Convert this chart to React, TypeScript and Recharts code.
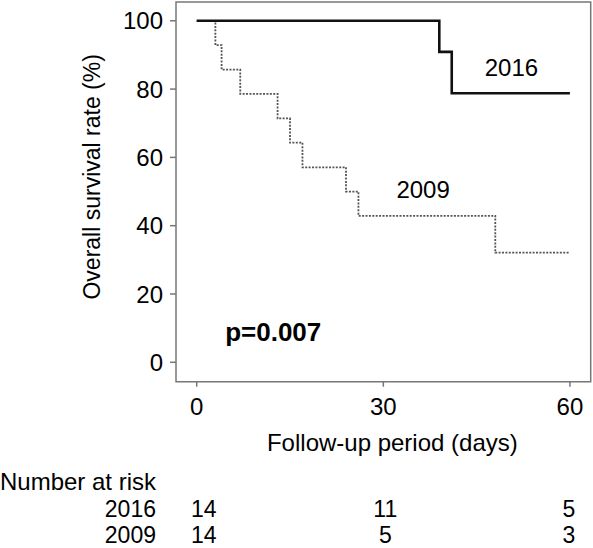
import React from 'react';
import { LineChart, Line, XAxis, YAxis, ReferenceArea, ReferenceDot } from 'recharts';

// Kaplan-Meier steps (days, % surviving)
const times2016 = [0, 39, 41, 60];
const surv2016 = [100, 90.9, 78.8, 78.8];
const times2009 = [0, 3, 4, 7, 13, 15, 17, 24, 26, 48, 60];
const surv2009 = [100, 92.9, 85.7, 78.6, 71.4, 64.3, 57.1, 50, 42.9, 32.1, 32.1];

// number at risk table
const riskTimes = [0, 30, 60];
const risk2016 = [14, 11, 5];
const risk2009 = [14, 5, 3];

const xTicks = [0, 30, 60];
const yTicks = [0, 20, 40, 60, 80, 100];

const data2016 = times2016.map((t, i) => ({ t, s: surv2016[i] }));
const data2009 = times2009.map((t, i) => ({ t, s: surv2009[i] }));

const FONT = '"Liberation Sans", Arial, Helvetica, sans-serif';
const FS = 24;
const RISK_FS = 23;
const AXIS = '#777';
const X_DOMAIN: [number, number] = [-3.33, 63.34];
const Y_DOMAIN: [number, number] = [-5.68, 105.5];

const YTitle = (props: any) => {
    const { viewBox } = props;
    const cx = viewBox.x + viewBox.width / 2;
    const cy = viewBox.y + viewBox.height / 2 - 15;
    return <text x={cx} y={cy} transform={`rotate(-90, ${cx}, ${cy})`} textAnchor="middle" dominantBaseline="central" fontSize={23} fill="#000">
        Overall survival rate (%)
    </text>;
};

const riskTick = (counts: number[]) => (props: any) => {
    const { x, y, payload, index } = props;
    const shift = [7, 2, -1][index] ?? 0;
    return <text x={x + shift} y={y} dy="0.71em" textAnchor="middle" fontSize={RISK_FS} fill="#000">
        {counts[riskTimes.indexOf(payload.value)]}
    </text>;
};

const rowLabel = (value: string, size: number) => ({ value, position: 'left' as const, offset: 20, fontSize: size, fill: '#000' });

export default function App() {
    // extra bottom axes stack by id, so ids are named in row order
    return <div style={{ position: 'absolute', left: 0, top: 0 }}>
        <LineChart width={593} height={548} margin={{ top: 2, right: 2.3, left: 8, bottom: 1 }} style={{ fontFamily: FONT }}>
            <XAxis type="number" dataKey="t" domain={X_DOMAIN} allowDataOverflow ticks={xTicks} height={86.3}
                axisLine={false} tickLine={{ stroke: AXIS, strokeWidth: 1.5 }} tickSize={5} tickMargin={11}
                tick={{ fontSize: FS, fill: '#000' }}
                label={{ value: 'Follow-up period (days)', position: 'insideBottom', offset: 17, dx: 9, fontSize: FS, fill: '#000' }} />
            <XAxis xAxisId="risk1" type="number" dataKey="t" domain={X_DOMAIN} allowDataOverflow height={27}
                axisLine={false} tickLine={false} tick={false} label={rowLabel('Number at risk', FS)} />
            <XAxis xAxisId="risk2" type="number" dataKey="t" domain={X_DOMAIN} allowDataOverflow ticks={riskTimes} height={27}
                axisLine={false} tickLine={false} tickSize={0} tickMargin={5.5} tick={riskTick(risk2016)} interval={0}
                label={rowLabel('2016', RISK_FS)} />
            <XAxis xAxisId="risk3" type="number" dataKey="t" domain={X_DOMAIN} allowDataOverflow ticks={riskTimes} height={25}
                axisLine={false} tickLine={false} tickSize={0} tickMargin={4.5} tick={riskTick(risk2009)} interval={0}
                label={rowLabel('2009', RISK_FS)} />
            <YAxis type="number" domain={Y_DOMAIN} allowDataOverflow ticks={yTicks} width={168}
                axisLine={false} tickLine={{ stroke: AXIS, strokeWidth: 1.5 }} tickSize={6} tickMargin={7}
                tick={{ fontSize: FS, fill: '#000' }} label={{ content: YTitle }} />
            <ReferenceArea x1={X_DOMAIN[0]} x2={X_DOMAIN[1]} y1={Y_DOMAIN[0]} y2={Y_DOMAIN[1]}
                fill="none" stroke={AXIS} strokeWidth={1.5} ifOverflow="visible" />
            <Line data={data2009} type="stepAfter" dataKey="s" stroke="#555" strokeWidth={1.8}
                strokeDasharray="2 1.4" dot={false} activeDot={false} isAnimationActive={false} />
            <Line data={data2016} type="stepAfter" dataKey="s" stroke="#111" strokeWidth={2.6}
                dot={false} activeDot={false} isAnimationActive={false} />
            <ReferenceDot x={50.6} y={86.4} r={0} stroke="none" fill="none"
                label={{ value: '2016', position: 'center', fontSize: FS, fill: '#000' }} />
            <ReferenceDot x={36.4} y={50.7} r={0} stroke="none" fill="none"
                label={{ value: '2009', position: 'center', fontSize: FS, fill: '#000' }} />
            <ReferenceDot x={12.3} y={8.9} r={0} stroke="none" fill="none"
                label={{ value: 'p=0.007', position: 'center', fontSize: 26, fontWeight: 'bold', fill: '#000' }} />
        </LineChart>
    </div>;
}
